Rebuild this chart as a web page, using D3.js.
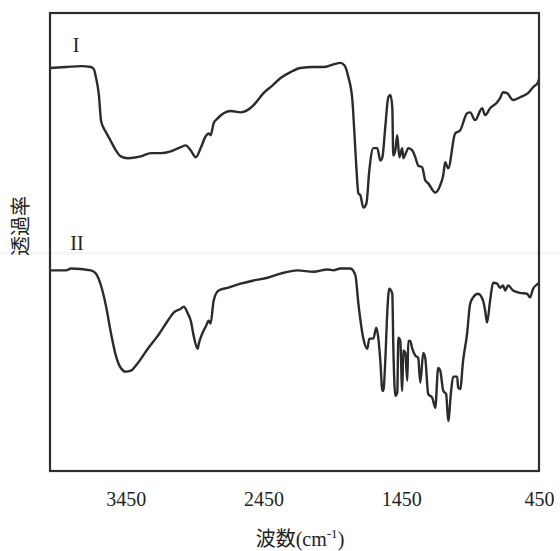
<!DOCTYPE html>
<html>
<head>
<meta charset="utf-8">
<script src="https://cdn.jsdelivr.net/npm/d3@7"></script>
<style>
  html, body { margin: 0; padding: 0; background: #fff; }
  svg { display: block; }
</style>
</head>
<body>
<svg id="chart" width="560" height="551"></svg>
<script>
// Wavenumber (cm-1) and relative transmittance readings
const wavenumberI = [4000,3884,3775,3703,3681,3667,3645,3630,3609,3594,3558,3522,3486,3435,3341,3268,3196,3123,3051,3015,2978,2942,2906,2870,2848,2834,2812,2783,2739,2689,2616,2566,2522,2450,2384,2326,2254,2182,2087,2015,1942,1892,1863,1834,1805,1790,1776,1761,1747,1725,1703,1682,1653,1624,1602,1587,1566,1544,1529,1515,1508,1493,1479,1464,1443,1435,1414,1399,1370,1348,1327,1298,1276,1254,1203,1167,1145,1131,1109,1059,1022,972,950,914,863,841,805,754,733,711,682,638,588,530,493,457,450];
const transI = [88.0,88.2,88.4,88.2,87.7,86.0,82.1,76.6,74.8,74.0,72.0,70.0,68.7,68.3,68.7,69.4,69.4,69.8,70.7,71.1,70.0,68.5,70.5,73.1,73.7,73.3,75.9,77.0,78.1,78.6,78.3,78.8,79.9,82.5,84.2,85.8,87.1,88.0,88.2,88.2,88.8,89.1,88.6,86.0,81.0,73.7,66.3,60.6,60.2,57.5,58.4,65.6,70.5,70.5,67.8,68.5,75.1,81.6,82.1,79.4,68.9,70.0,73.3,68.5,70.5,68.3,69.6,70.5,70.0,68.5,66.7,66.3,63.5,62.8,60.8,62.4,64.6,67.4,66.1,73.7,74.4,78.1,78.3,76.6,79.2,77.7,79.2,80.5,81.4,82.7,82.5,81.0,81.6,82.5,83.8,84.9,85.5];

const wavenumberII = [4000,3884,3848,3703,3667,3630,3594,3558,3522,3486,3449,3413,3362,3290,3218,3145,3102,3051,3029,3000,2978,2957,2928,2920,2892,2870,2848,2834,2812,2776,2710,2616,2522,2421,2326,2203,2087,1986,1942,1892,1819,1783,1761,1725,1696,1682,1653,1631,1616,1602,1587,1580,1566,1551,1537,1515,1508,1493,1479,1471,1457,1443,1435,1421,1406,1399,1385,1370,1348,1327,1312,1290,1276,1254,1225,1203,1182,1167,1145,1124,1109,1088,1073,1044,1037,1022,1001,972,950,928,892,856,841,827,805,783,754,733,711,696,674,638,588,537,515,493,457,450];
const transII = [43.8,43.8,44.2,43.8,43.1,40.5,36.1,30.2,25.2,22.5,21.7,21.9,23.6,26.7,29.5,32.8,34.6,35.4,35.9,34.4,32.8,29.5,26.7,27.8,30.2,31.5,32.8,32.2,37.2,39.4,40.0,40.9,41.6,42.2,43.1,43.8,43.5,44.0,43.8,44.2,44.2,42.7,36.5,28.9,26.7,28.9,28.9,31.3,28.9,24.1,17.5,17.5,24.1,35.0,39.8,38.7,27.8,16.4,17.1,29.1,28.4,17.5,26.3,25.8,19.7,28.4,28.4,26.7,25.2,24.7,19.3,25.8,24.7,16.8,16.0,13.8,22.5,21.9,17.5,16.8,10.9,17.5,20.6,20.6,18.2,17.9,24.1,30.0,36.5,37.9,38.7,37.2,35.0,32.4,37.2,41.1,40.9,40.0,40.5,39.4,40.5,39.4,38.9,38.7,37.9,39.8,40.9,41.1];

const xTicks = [3450, 2450, 1450, 450];
const seriesLabels = ["I", "II"];
const xTitleCJK = "波数";
const xTitleUnit = "(cm";
const xTitleSup = "-1";
const yTitle = "透過率";

const svg = d3.select("#chart");
const L = 50, R = 539, T = 13, B = 471;

const x = d3.scaleLinear().domain([4000, 450]).range([L, R]);
const y = d3.scaleLinear().domain([0, 100]).range([B, T]);

// faint scan line
svg.append("line").attr("x1", 0).attr("x2", 560).attr("y1", 253).attr("y2", 253)
  .attr("stroke", "#ececec").attr("stroke-width", 1);

const line = d3.line().x(d => x(d[0])).y(d => y(d[1])).curve(d3.curveMonotoneX);

const dataI = wavenumberI.map((w, i) => [w, transI[i]]);
const dataII = wavenumberII.map((w, i) => [w, transII[i]]);

[dataI, dataII].forEach(d => {
  svg.append("path").datum(d).attr("d", line)
    .attr("fill", "none").attr("stroke", "#2b2b2b")
    .attr("stroke-width", 2.4).attr("stroke-linejoin", "round");
});

// frame
svg.append("rect").attr("x", L).attr("y", T).attr("width", R - L).attr("height", B - T)
  .attr("fill", "none").attr("stroke", "#2e2e2e").attr("stroke-width", 2.2);

// x axis labels (no tick marks)
const axis = d3.axisBottom(x).tickValues(xTicks).tickSize(0).tickPadding(0).tickFormat(d3.format("d"));
const gx = svg.append("g").attr("transform", `translate(0,${B})`).call(axis);
gx.select(".domain").remove();
gx.selectAll("text")
  .attr("y", 35).attr("dy", 0)
  .attr("font-family", "'Liberation Serif', 'DejaVu Serif', serif")
  .attr("font-size", 20).attr("fill", "#222");

// series labels
svg.append("text").attr("x", 76).attr("y", 52).attr("text-anchor", "middle")
  .attr("font-family", "'Liberation Serif', serif").attr("font-size", 20).attr("fill", "#222")
  .text(seriesLabels[0]);
svg.append("text").attr("x", 77).attr("y", 250).attr("text-anchor", "middle")
  .attr("font-family", "'Liberation Serif', serif").attr("font-size", 20).attr("fill", "#222")
  .text(seriesLabels[1]);

// x title
const xt = svg.append("text").attr("x", 300).attr("y", 546).attr("text-anchor", "middle")
  .attr("font-size", 20).attr("fill", "#222");
xt.append("tspan").attr("font-family", "'Noto Sans CJK JP', sans-serif").text(xTitleCJK);
xt.append("tspan").attr("font-family", "'Liberation Serif', serif").text(xTitleUnit);
xt.append("tspan").attr("font-family", "'Liberation Serif', serif").attr("dy", -8).attr("font-size", 13).text(xTitleSup);
xt.append("tspan").attr("font-family", "'Liberation Serif', serif").attr("dy", 8).text(")");

// y title
svg.append("text").attr("transform", "translate(28,226) rotate(-90)").attr("text-anchor", "middle")
  .attr("font-family", "'Noto Sans CJK JP', sans-serif").attr("font-size", 20).attr("fill", "#222")
  .text(yTitle);
</script>
</body>
</html>
